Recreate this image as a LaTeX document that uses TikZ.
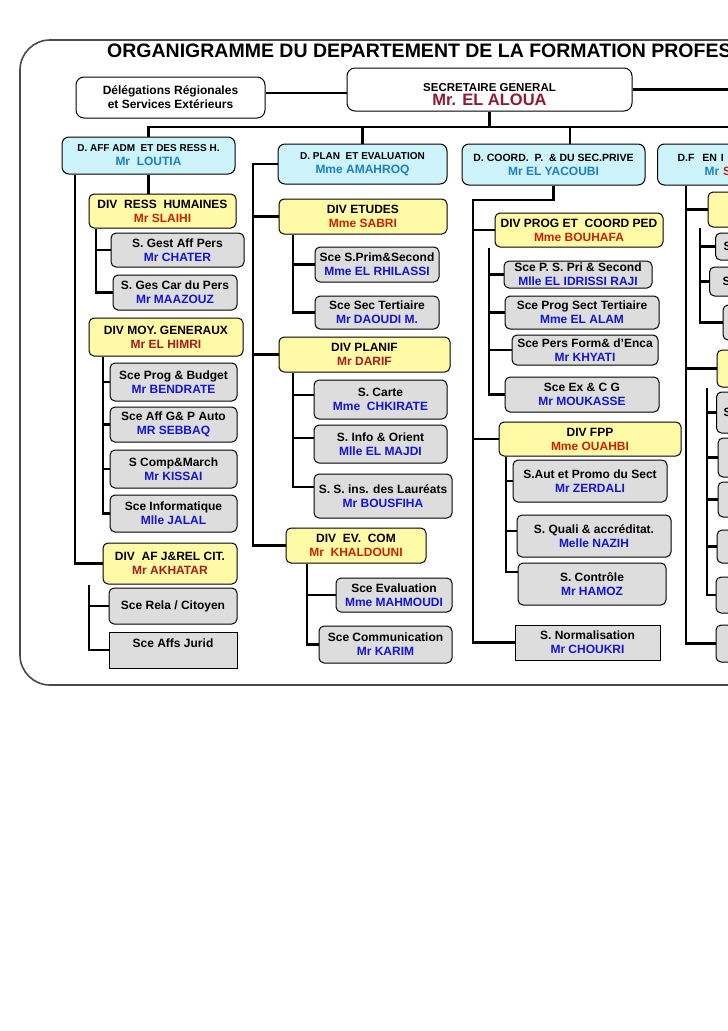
\documentclass[tikz,border=0pt]{standalone}
\usepackage{fontspec}
\setmainfont{Liberation Sans}
\definecolor{cyanf}{HTML}{CDF3FB}
\definecolor{yelf}{HTML}{FFFAA5}
\definecolor{greyf}{HTML}{DDDDDD}
\definecolor{dblue}{HTML}{1E7FC8}
\definecolor{sblue}{HTML}{1414D8}
\definecolor{redA}{HTML}{CC2200}
\definecolor{redB}{HTML}{A81C1C}
\definecolor{sgred}{HTML}{8E1B30}
\definecolor{framec}{HTML}{4A4A4A}
\newcommand{\mkbox}[7]{\node[#6, minimum width={(#4-#2)*1pt}, minimum height={(#5-#3)*1pt}] (#1) at ({(#2+#4)/2},{(#3+#5)/2}) {#7};}
\begin{document}
\begin{tikzpicture}[x=1pt,y=-1pt,
  box/.style={draw=black, line width=1pt, rounded corners=5pt, inner sep=0pt, align=center, font=\bfseries\fontsize{12}{14}\selectfont, text=black},
  wbox/.style={box, fill=white, rounded corners=8pt},
  dbox/.style={box, fill=cyanf, rounded corners=7pt},
  divbox/.style={box, fill=yelf},
  sbox/.style={box, fill=greyf},
  qbox/.style={sbox, sharp corners},
  conn/.style={line width=2.6pt, black},
  frame/.style={line width=1.6pt, framec, rounded corners=30pt}]
\useasboundingbox (0,0) rectangle (728,1031);
\clip (0,0) rectangle (728,1031);
\fill[white] (0,0) rectangle (728,1031);

% frame
\draw[frame] (760,40) -- (20,40) -- (20,685) -- (760,685);

% title
\node[anchor=base west, inner sep=0pt, font=\bfseries\fontsize{19.5}{22}\selectfont] (title) at (107,57) {ORGANIGRAMME DU DEPARTEMENT DE LA FORMATION PROFES};

% top level
\mkbox{deleg}{76}{77}{265}{118}{wbox}{Délégations Régionales\\ et Services Extérieurs}
\mkbox{sg}{347}{68}{632}{111}{wbox}{}
\node[anchor=base, inner sep=0pt, font=\bfseries\fontsize{11.5}{14}\selectfont] (sgt) at (489.5,91.5) {SECRETAIRE GENERAL};
\node[anchor=base, inner sep=0pt, font=\bfseries\fontsize{16.5}{18}\selectfont, text=sgred] (sgn) at (489.5,105) {Mr. EL ALOUA};

% directions
\mkbox{daff}{62}{137}{235}{174}{dbox}{{\fontsize{10}{14}\selectfont D. AFF ADM\ \ ET DES RESS H.}\\\textcolor{dblue}{Mr\ \ LOUTIA}}
\mkbox{dplan}{278}{144}{447}{184}{dbox}{{\fontsize{10}{14}\selectfont D. PLAN\ \ ET EVALUATION}\\\textcolor{dblue}{Mme AMAHROQ}}
\mkbox{dcoord}{462}{144}{645}{185}{dbox}{{\fontsize{10.5}{14}\selectfont D. COORD.\ \ P.\ \ \& DU SEC.PRIVE}\\\textcolor{dblue}{Mr EL YACOUBI}}
\node[dbox, anchor=west, align=left, text width=103pt, inner xsep=20pt, minimum height=41pt] (dfen) at (657,164.5) {{\fontsize{10.5}{14}\selectfont D.F\ \ EN I}\\\hspace*{27pt}\textcolor{dblue}{Mr }\textcolor{redA}{S}};

% divisions
\mkbox{divrh}{89}{194}{236}{228}{divbox}{DIV\ \ RESS\ \ HUMAINES\\\textcolor{redA}{Mr SLAIHI}}
\mkbox{divmoy}{89}{318}{243}{356}{divbox}{DIV MOY. GENERAUX\\\textcolor{redB}{Mr EL HIMRI}}
\mkbox{divaf}{103}{543}{237}{584}{divbox}{DIV\ \ AF J\&REL CIT.\\\textcolor{redB}{Mr AKHATAR}}
\mkbox{divet}{279}{199}{447}{234}{divbox}{DIV ETUDES\\\textcolor{redA}{Mme SABRI}}
\mkbox{divpl}{279}{337}{450}{372}{divbox}{DIV PLANIF\\\textcolor{redB}{Mr DARIF}}
\mkbox{divev}{286}{528}{426}{563}{divbox}{DIV\ \ EV.\ \ COM\\\textcolor{redA}{Mr\ \ KHALDOUNI}}
\mkbox{divprog}{495}{213}{663}{247}{divbox}{DIV PROG ET\ \ COORD PED\\\textcolor{redA}{Mme BOUHAFA}}
\mkbox{divfpp}{499}{422}{681}{456}{divbox}{DIV FPP\\\textcolor{redA}{Mme OUAHBI}}

% services column 1
\mkbox{sgap}{111}{233}{244}{267}{sbox}{S. Gest Aff Pers\\\textcolor{sblue}{Mr CHATER}}
\mkbox{sgcp}{113}{275}{237}{310}{sbox}{S. Ges Car du Pers\\\textcolor{sblue}{Mr MAAZOUZ}}
\mkbox{spb}{110}{363}{237}{401}{sbox}{Sce Prog \& Budget\\\textcolor{sblue}{Mr BENDRATE}}
\mkbox{safg}{110}{407}{237}{442}{sbox}{Sce Aff G\& P Auto\\\textcolor{sblue}{MR SEBBAQ}}
\mkbox{scomp}{110}{450}{237}{488}{sbox}{S Comp\&March\\\textcolor{sblue}{Mr KISSAI}}
\mkbox{sinfo}{110}{495}{237}{532}{sbox}{Sce Informatique\\\textcolor{sblue}{Mlle JALAL}}
\mkbox{srela}{109}{588}{237}{624}{sbox}{Sce Rela / Citoyen}
\mkbox{sjur}{109}{632}{237}{668}{qbox}{Sce Affs Jurid\\\mbox{}}

% services column 2
\mkbox{sprim}{315}{247}{439}{282}{sbox}{Sce S.Prim\&Second\\\textcolor{sblue}{Mme EL RHILASSI}}
\mkbox{ssec}{315}{296}{439}{329}{sbox}{Sce Sec Tertiaire\\\textcolor{sblue}{Mr DAOUDI M.}}
\mkbox{scarte}{314}{380}{447}{419}{sbox}{S. Carte\\\textcolor{sblue}{Mme\ \ CHKIRATE}}
\mkbox{sio}{314}{425}{447}{463}{sbox}{S. Info \& Orient\\\textcolor{sblue}{Mlle EL MAJDI}}
\mkbox{ssins}{314}{474}{452}{518}{sbox}{S. S. ins. des Lauréats\\\textcolor{sblue}{Mr BOUSFIHA}}
\mkbox{seval}{336}{578}{452}{612}{sbox}{Sce Evaluation\\\textcolor{sblue}{Mme MAHMOUDI}}
\mkbox{scom}{319}{626}{452}{663}{sbox}{Sce Communication\\\textcolor{sblue}{Mr KARIM}}

% services column 3
\mkbox{spsp}{504}{261}{652}{288}{sbox}{Sce P. S. Pri \& Second\\\textcolor{sblue}{Mlle EL IDRISSI RAJI}}
\mkbox{spst}{505}{296}{659}{329}{sbox}{Sce Prog Sect Tertiaire\\\textcolor{sblue}{Mme EL ALAM}}
\mkbox{spf}{512}{335}{658}{365}{sbox}{Sce Pers Form\& d’Enca\\\textcolor{sblue}{Mr KHYATI}}
\mkbox{sex}{505}{377}{659}{412}{sbox}{Sce Ex \& C G\\\textcolor{sblue}{Mr MOUKASSE}}
\mkbox{saut}{513}{460}{667}{502}{sbox}{S.Aut et Promo du Sect\\\textcolor{sblue}{Mr ZERDALI}}
\mkbox{squal}{517}{515}{671}{557}{sbox}{S. Quali \& accréditat.\\\textcolor{sblue}{Melle NAZIH}}
\mkbox{sctrl}{518}{563}{666}{605}{sbox}{S. Contrôle\\\textcolor{sblue}{Mr HAMOZ}}
\mkbox{snorm}{515}{625}{660}{660}{qbox}{S. Normalisation\\\textcolor{sblue}{Mr CHOUKRI}}

% column 4 (cut by the page edge)
\mkbox{cy1}{708}{192}{800}{227}{divbox}{}
\node[sbox, anchor=west, align=left, text width=70pt, inner xsep=8pt, minimum height=27pt] (cs1) at (715,246.5) {S};
\node[sbox, anchor=west, align=left, text width=70pt, inner xsep=13pt, minimum height=29pt] (cs2) at (709,281.5) {S};
\mkbox{cs3}{723}{305}{800}{340}{sbox}{}
\mkbox{cy2}{717}{350}{800}{387}{divbox}{}
\node[sbox, anchor=west, align=left, text width=70pt, inner xsep=7pt, minimum height=41pt] (cs4) at (716,412.5) {S};
\mkbox{cs5}{718}{438}{800}{477}{sbox}{}
\mkbox{cs6}{718}{482}{800}{517}{sbox}{}
\mkbox{cs7}{717}{530}{800}{563}{sbox}{}
\mkbox{cs8}{716}{577}{800}{613}{sbox}{}
\mkbox{cs9}{716}{625}{800}{662}{sbox}{}

% ---------- connectors ----------
\coordinate (busR) at (760,127);
\draw[conn] (daff.north) |- (busR);
\draw[conn] (sg.south) -- (sg.south |- busR);
\draw[conn] (dplan.north) -- (dplan.north |- busR);
\draw[conn] (570,0 |- dcoord.north) -- (570,0 |- busR);
\path ([yshift=4.5pt]deleg.east) coordinate (delE);
\draw[conn] (delE) -- (delE -| sg.west);
\draw[conn] (sg.east) -- (sg.east -| busR);

% column 1
\draw[conn] (daff.south) -- (daff.south |- divrh.north);
\draw[conn] (75,0 |- daff.south) |- (divaf.west);
\draw[conn] (96,0 |- divrh.south) |- (sgcp.west);
\draw[conn] (96,0 |- sgap.west) -- (sgap.west);
\draw[conn] (103,0 |- divmoy.south) |- (sinfo.west);
\foreach \n in {spb,safg,scomp} \draw[conn] (103,0 |- \n.west) -- (\n.west);
\draw[conn] (89,0 |- divaf.south) |- (sjur.west);
\draw[conn] (89,0 |- srela.west) -- (srela.west);

% column 2
\draw[conn] (dplan.west) -| (253,0 |- divev.west) -- (divev.west);
\draw[conn] (253,0 |- divet.west) -- (divet.west);
\draw[conn] (253,0 |- divpl.west) -- (divpl.west);
\draw[conn] (293,0 |- divet.south) |- (ssec.west);
\draw[conn] (293,0 |- sprim.west) -- (sprim.west);
\path ([yshift=4.5pt]scarte.west) coordinate (scarteW);
\path ([yshift=6pt]sio.west) coordinate (sioW);
\path ([yshift=9pt]ssins.west) coordinate (ssinsW);
\draw[conn] (293,0 |- divpl.south) |- (ssinsW);
\draw[conn] (293,0 |- scarteW) -- (scarteW);
\draw[conn] (293,0 |- sioW) -- (sioW);
\draw[conn] (307,0 |- divev.south) |- (scom.west);
\draw[conn] (307,0 |- seval.west) -- (seval.west);

% column 3
\draw[conn] (dcoord.south) |- (473,200) -- (473,0 |- snorm.west) -- (snorm.west);
\draw[conn] (473,0 |- divprog.west) -- (divprog.west);
\draw[conn] (473,0 |- divfpp.west) -- (divfpp.west);
\draw[conn] (489,0 |- divprog.south) |- (sex.west);
\foreach \n in {spsp,spst,spf} \draw[conn] (489,0 |- \n.west) -- (\n.west);
\path ([yshift=5pt]squal.west) coordinate (squalW);
\path ([yshift=12pt]sctrl.west) coordinate (sctrlW);
\draw[conn] (506,0 |- divfpp.south) |- (sctrlW);
\draw[conn] (506,0 |- saut.west) -- (saut.west);
\draw[conn] (506,0 |- squalW) -- (squalW);

% column 4
\draw[conn] (686,0 |- dfen.south) |- (cs9.west);
\draw[conn] (686,0 |- cy1.west) -- (cy1.west);
\draw[conn] (686,0 |- cy2.west) -- (cy2.west);
\draw[conn] (700,0 |- cy1.south) |- (cs3.west);
\foreach \n in {cs1,cs2} \draw[conn] (700,0 |- \n.west) -- (\n.west);
\draw[conn] (707,0 |- cy2.south) |- (cs8.west);
\foreach \n in {cs4,cs5,cs6,cs7} \draw[conn] (707,0 |- \n.west) -- (\n.west);
\end{tikzpicture}
\end{document}
